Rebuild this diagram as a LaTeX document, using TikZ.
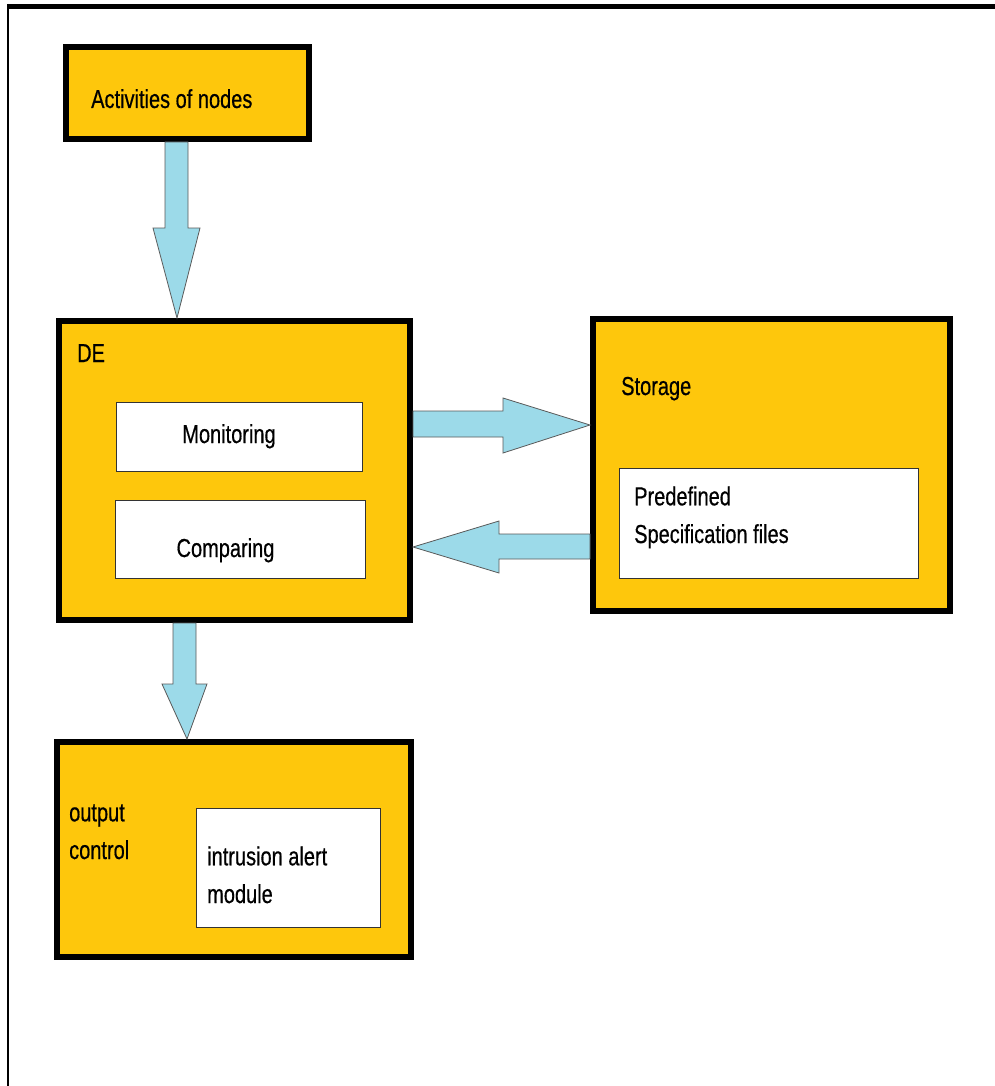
\documentclass[tikz,border=0pt]{standalone}
\usepackage{fontspec}
\setmainfont{Liberation Sans}
\newfontfamily\lblfont{Liberation Sans}[FakeBold=0.6]
\usetikzlibrary{calc}
\definecolor{boxgold}{RGB}{254,199,12}
\definecolor{arrowblue}{RGB}{156,218,233}

\begin{document}
\begin{tikzpicture}[x=1pt, y=-1pt,
  block/.style={draw=black, line width=6pt, fill=boxgold, anchor=north west, inner sep=0pt},
  inbox/.style={draw=black!80, line width=1pt, fill=white, anchor=north west, inner sep=0pt},
  txt/.style={font=\lblfont\fontsize{20}{29}\selectfont, inner sep=0pt, anchor=base west, align=left, yscale=1.3, transform shape},
  flow/.style={draw=black!65, line width=0.8pt, fill=arrowblue, line join=miter}]
\useasboundingbox (0,0) rectangle (995,1086);
\draw[line width=5pt] (7,6.5) -- (995,6.5);
\draw[line width=2.5pt] (8,4) -- (8,1086);
\node[block, minimum width=243pt, minimum height=92pt] (act) at (63,44) {};
\node[block, minimum width=351pt, minimum height=299pt] (de) at (56,318) {};
\node[block, minimum width=357pt, minimum height=292pt] (sto) at (590,316) {};
\node[block, minimum width=354pt, minimum height=215pt] (out) at (54,739) {};
\node[inbox, minimum width=246pt, minimum height=69pt] (mon) at (116,402) {};
\node[inbox, minimum width=250pt, minimum height=78pt] (cmp) at (115,500) {};
\node[inbox, minimum width=299pt, minimum height=110pt] (pre) at (619,468) {};
\node[inbox, minimum width=184pt, minimum height=119pt] (alert) at (196,808) {};
\draw[flow] (act.south -| 165,0) -- (act.south -| 188,0) -- (188,228) -- (200,228) -- (de.north -| 177,0) -- (153,228) -- (165,228) -- cycle;
\draw[flow] (de.south -| 173,0) -- (de.south -| 196,0) -- (196,684) -- (207,684) -- (out.north -| 187,0) -- (162,684) -- (173,684) -- cycle;
\draw[flow] (de.east |- 0,411) -- (503,411) -- (503,398) -- (sto.west |- 0,425) -- (503,453) -- (503,437) -- (de.east |- 0,437) -- cycle;
\draw[flow] (sto.west |- 0,534) -- (499,534) -- (499,521) -- (de.east |- 0,547) -- (499,573) -- (499,559) -- (sto.west |- 0,559) -- cycle;
\node[txt] (actlbl) at (91,108) {Activities of nodes};
\node[txt] (delbl) at (77,362) {DE};
\node[txt, anchor=base] (monlbl) at (229,443) {Monitoring};
\node[txt, anchor=base] (cmplbl) at (225.5,557) {Comparing};
\node[txt] (stolbl) at (621,395) {Storage};
\node[txt] (prelbl) at (634,543) {Predefined\\Specification files};
\node[txt] (outlbl) at (69,859) {output\\control};
\node[txt] (alertlbl) at (207,903) {intrusion alert\\module};
\end{tikzpicture}
\end{document}
